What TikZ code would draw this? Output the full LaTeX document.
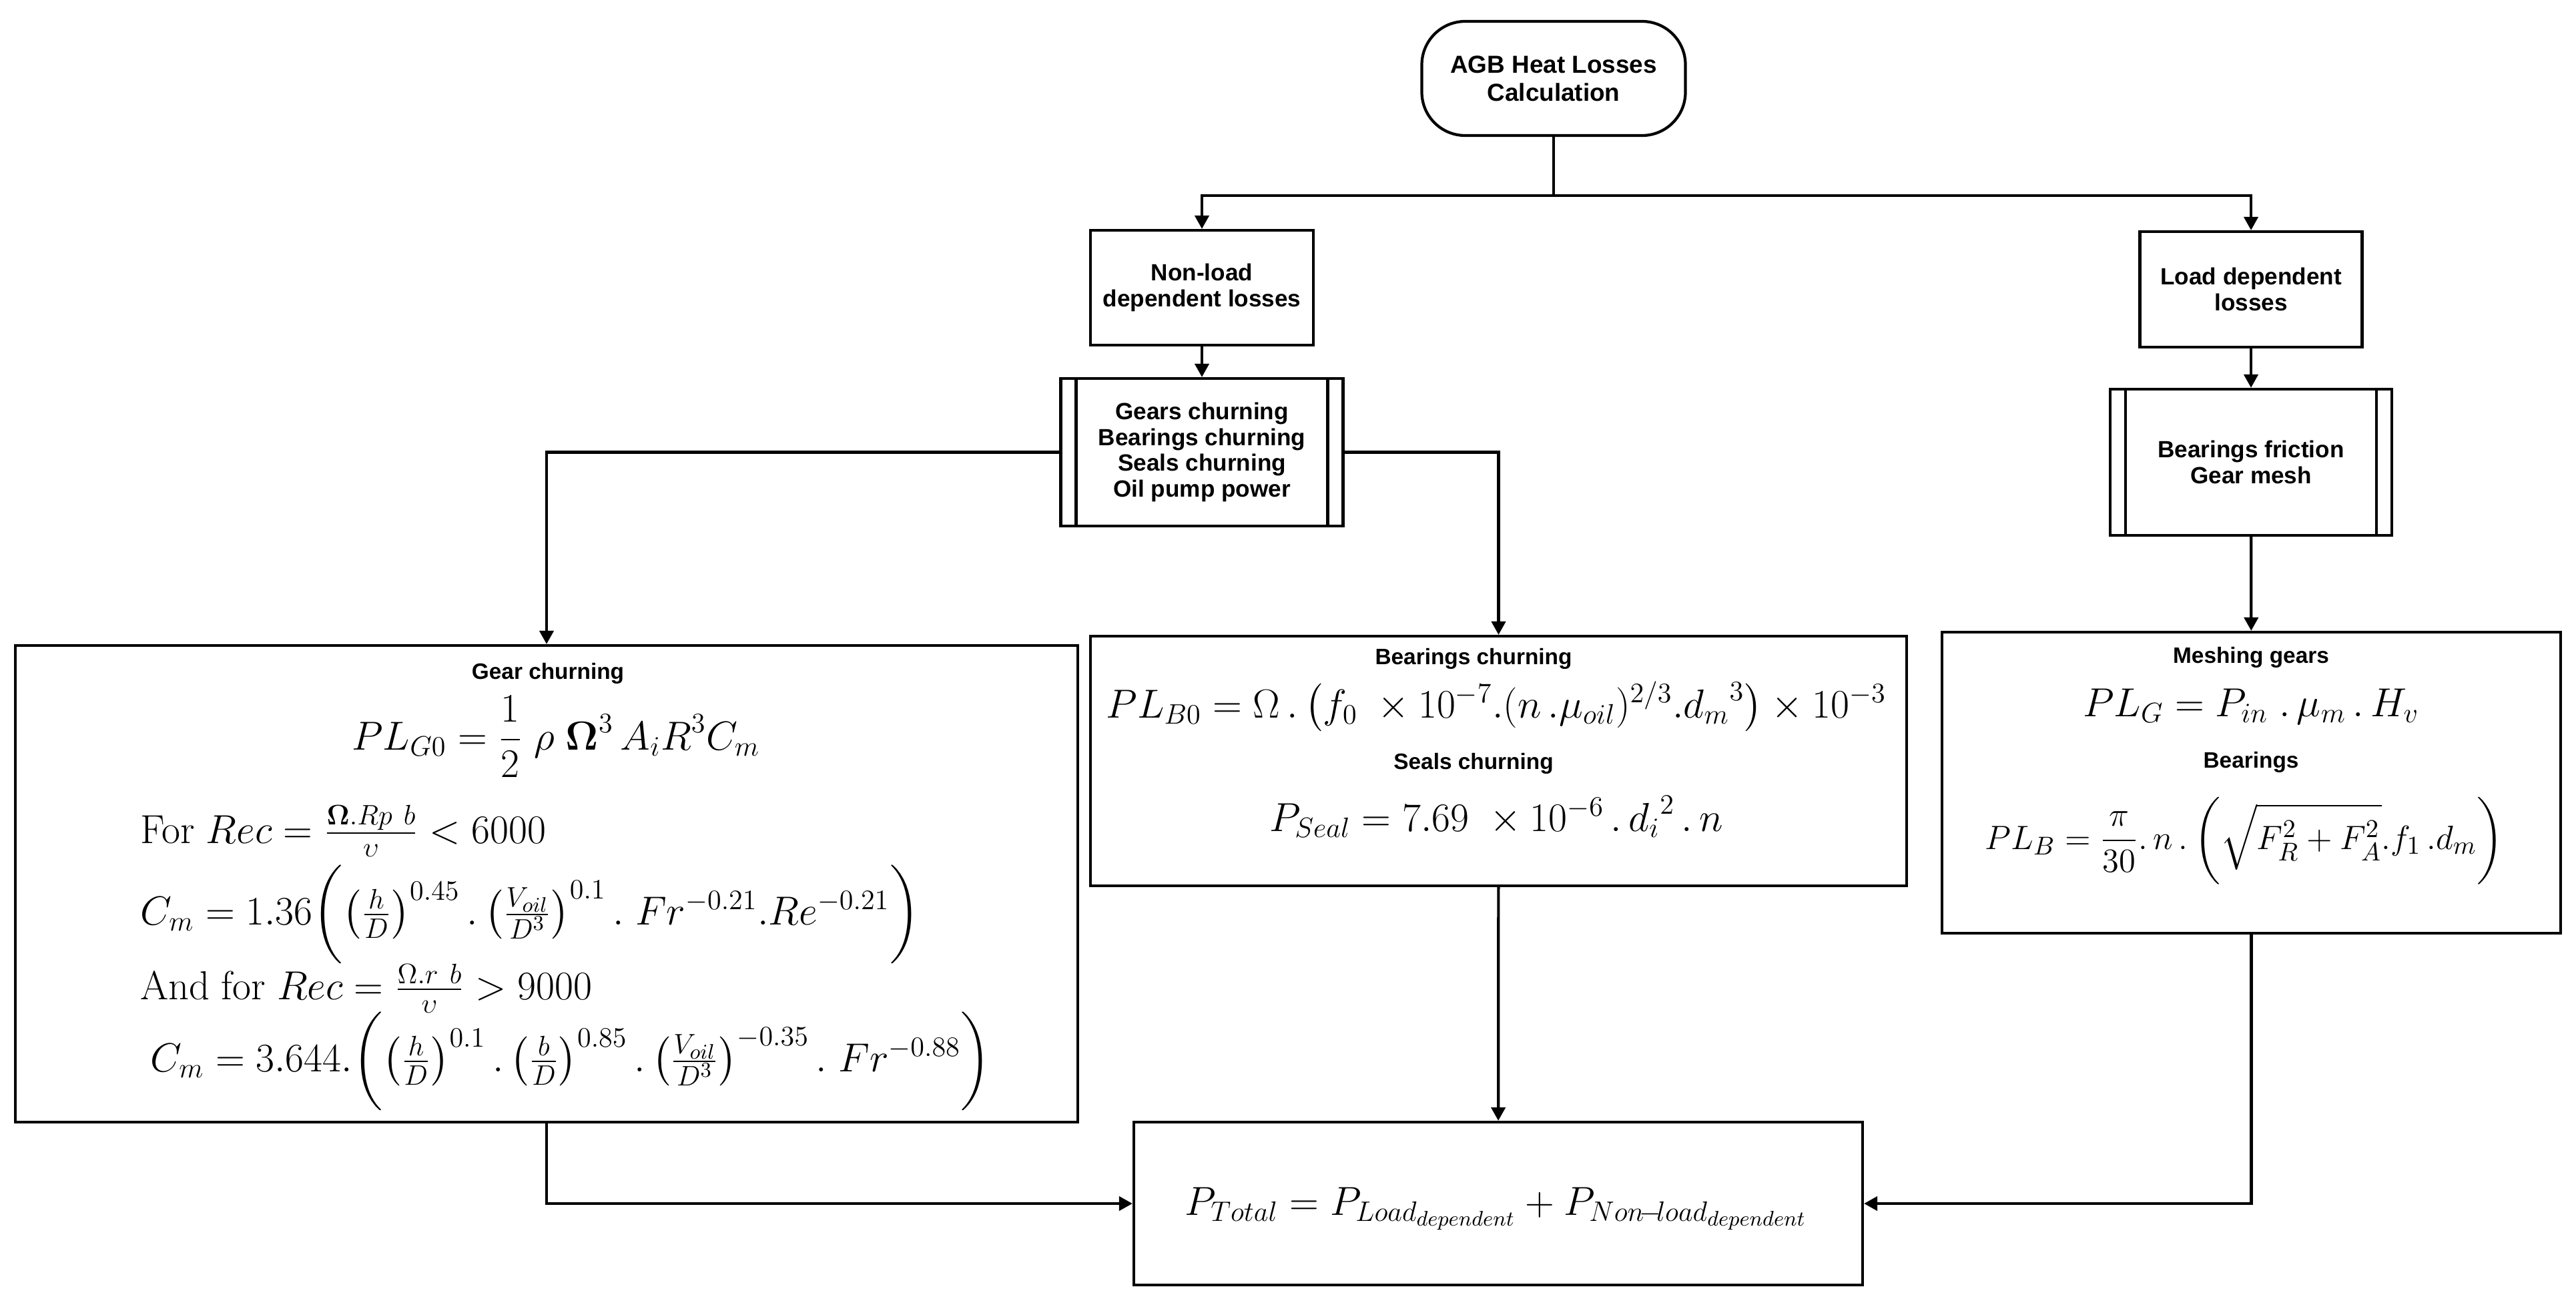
\documentclass[tikz,border=0pt]{standalone}
\usepackage{amsmath,amssymb}
\usepackage[no-math]{fontspec}
\setmainfont{Liberation Sans}
\usepackage{xcolor}
\usepackage{tikz}
\usetikzlibrary{shapes,arrows.meta,positioning,fit}

\begin{document}
\begin{tikzpicture}[
    box/.style={rectangle, draw, line width=1.2pt, align=center, inner sep=2pt, font=\bfseries\fontsize{10}{11}\selectfont},
    startbox/.style={box, rounded corners=0.65cm, font=\bfseries\fontsize{10.5}{12}\selectfont},
    subproc/.style={box, path picture={
        \draw[line width=1.2pt] ([xshift=0.23cm]path picture bounding box.north west) -- ([xshift=0.23cm]path picture bounding box.south west);
        \draw[line width=1.2pt] ([xshift=-0.23cm]path picture bounding box.north east) -- ([xshift=-0.23cm]path picture bounding box.south east);}},
    eqbox/.style={rectangle, draw, line width=1.2pt},
    title/.style={anchor=base, inner sep=0pt, font=\bfseries\fontsize{9.5}{11}\selectfont},
    eq/.style={anchor=base, inner sep=0pt, font=\fontsize{17.5}{20}\selectfont},
    eqleft/.style={eq, anchor=base west},
    arrow/.style={-{Triangle[length=0.2cm,width=0.21cm]}, line width=1.2pt}
]
\useasboundingbox (0,0) rectangle (38.6,-19.42);

% flow boxes
\node[startbox, minimum width=3.95cm, minimum height=1.71cm] (start) at (23.28,-1.175) {AGB Heat Losses\\Calculation};
\node[box, minimum width=3.34cm, minimum height=1.72cm] (nonload) at (18.01,-4.31) {Non-load\\dependent losses};
\node[box, minimum width=3.33cm, minimum height=1.73cm] (load) at (33.73,-4.335) {Load dependent\\losses};
\node[subproc, minimum width=4.23cm, minimum height=2.21cm] (churn) at (18.01,-6.775) {Gears churning\\Bearings churning\\Seals churning\\Oil pump power};
\node[subproc, minimum width=4.22cm, minimum height=2.19cm] (friction) at (33.73,-6.925) {Bearings friction\\Gear mesh};
\coordinate (split) at (23.28,-2.93);

% equation boxes
\node[eqbox, minimum width=15.92cm, minimum height=7.14cm] (gearbox) at (8.19,-13.24) {};
\node[eqbox, minimum width=12.23cm, minimum height=3.74cm] (bearbox) at (22.455,-11.40) {};
\node[eqbox, minimum width=9.27cm, minimum height=4.51cm] (meshbox) at (33.735,-11.725) {};
\node[eqbox, minimum width=10.92cm, minimum height=2.44cm] (total) at (22.45,-18.03) {};

% gear churning
\node[title] (gtitle) at (8.21,-10.17) {Gear churning};
\node[eq] (gform) at (8.33,-11.23) {$\displaystyle PL_{G0} = \frac{1}{2}\ \rho\ \boldsymbol{\Omega}^{3}\, A_i R^3 C_m$};
\node[eqleft] (rec1) at (2.10,-12.63) {$\mathrm{For}\ Rec = \frac{\boldsymbol{\Omega}.Rp\ b}{\upsilon} < 6000$};
\node[eqleft] (cm1) at (2.10,-13.85) {$C_m = 1.36\biggl(\left(\frac{h}{D}\right)^{0.45}.\left(\frac{V_{oil}}{D^3}\right)^{0.1}.\ Fr^{-0.21}.Re^{-0.21}\biggr)$};
\node[eqleft] (rec2) at (2.10,-14.97) {$\mathrm{And\ for}\ Rec = \frac{\Omega.r\ b}{\upsilon} > 9000$};
\node[eqleft] (cm2) at (2.25,-16.05) {$C_m = 3.644.\biggl(\left(\frac{h}{D}\right)^{0.1}.\left(\frac{b}{D}\right)^{0.85}.\left(\frac{V_{oil}}{D^3}\right)^{-0.35}.\ Fr^{-0.88}\biggr)$};

% bearings and seals churning
\node[title] (btitle) at (22.08,-9.95) {Bearings churning};
\node[eq, font=\fontsize{17}{20}\selectfont] (bform) at (22.42,-10.75) {$PL_{B0} = \Omega\,.\left(f_0\ \times 10^{-7}.(n\,.\mu_{oil})^{2/3}.{d_m}^{3}\right)\times 10^{-3}$};
\node[title] (stitle) at (22.08,-11.52) {Seals churning};
\node[eq] (sform) at (22.42,-12.45) {$P_{Seal} = 7.69\ \times 10^{-6}\,.\,{d_i}^{2}\,.\,n$};

% meshing gears and bearings
\node[title] (mtitle) at (33.73,-9.93) {Meshing gears};
\node[eq, font=\fontsize{17}{20}\selectfont] (gmform) at (33.73,-10.73) {$PL_G = P_{in}\ .\,\mu_m\,.\,H_v$};
\node[title] (btitle2) at (33.73,-11.50) {Bearings};
\node[eq, font=\fontsize{15.5}{18}\selectfont] (bform2) at (33.63,-12.72) {$\displaystyle PL_B = \frac{\pi}{30}.\,n\,.\left(\sqrt{F_R^2 + F_A^2}.f_1\,.d_m\right)$};

% total
\node[eq, font=\fontsize{18.5}{21}\selectfont] (tform) at (22.42,-18.20) {$P_{Total} = P_{Load_{dependent}} + P_{Non\!-\!load_{dependent}}$};

\draw[line width=1.2pt] (start.south) -- (split);
\draw[arrow] (split) -| (nonload.north);
\draw[arrow] (split) -| (load.north);
\draw[arrow] (nonload) -- (churn);
\draw[arrow] (load) -- (friction);
\draw[arrow] (churn.west) -| (gearbox.north);
\draw[arrow] (churn.east) -| (bearbox.north);
\draw[arrow] (friction) -- (meshbox);
\draw[arrow] (bearbox) -- (total);
\draw[arrow] (gearbox.south) |- (total.west);
\draw[arrow] (meshbox.south) |- (total.east);
\end{tikzpicture}
\end{document}
